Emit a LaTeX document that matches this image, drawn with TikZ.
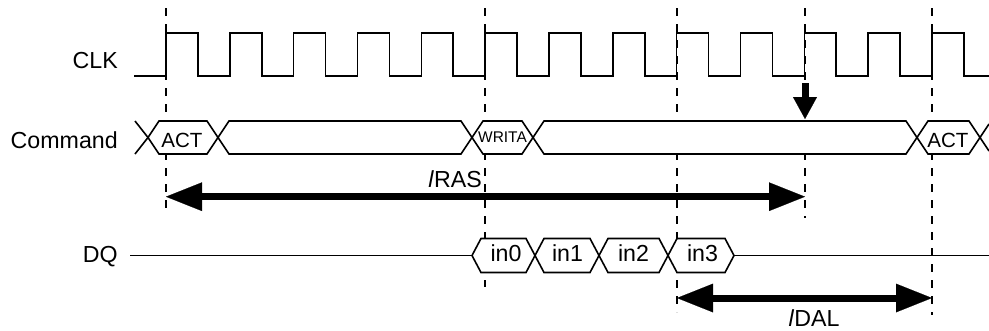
\documentclass[tikz,border=0pt]{standalone}
\usepackage{fontspec}
\setmainfont{Liberation Sans}
\usepackage{tikz}
\usetikzlibrary{arrows.meta}

\begin{document}
\begin{tikzpicture}[x=0.75pt,y=0.75pt,yscale=-1,
  wave/.style={line width=1.2pt, line join=miter},
  tick/.style={line width=0.8pt, dash pattern=on 6pt off 6pt},
  cell/.style={line width=1.2pt, fill=white, line join=miter},
  bigtip/.tip={Triangle[length=27pt,width=21.5pt,line width=0.1pt]},
  smalltip/.tip={Triangle[length=16.5pt,width=18pt,line width=0.1pt]},
  span/.style={line width=5.25pt, bigtip-bigtip},
  sig/.style={inner sep=0pt, font=\fontsize{17.4}{20}\selectfont},
  cmd/.style={inner sep=0pt, font=\fontsize{15.4}{18}\selectfont},
  tiny/.style={inner sep=0pt, font=\fontsize{11.6}{14}\selectfont}]
  \useasboundingbox (0,0) rectangle (989,330);

  %Straight Lines: dashed markers
  \foreach \x/\yend in {166/215, 485/287, 677/312, 805/218, 932/315}
    \draw [tick] (\x,8) -- (\x,\yend) ;

  %Clock wave
  \draw [wave] (134,76) \foreach \k in {0,...,12} { -- ({166+63.83*\k},76) -- ({166+63.83*\k},33) -- ({197.9+63.83*\k},33) -- ({197.9+63.83*\k},76) } -- (989,76) ;

  %Command bus
  \draw [wave] (135,121) -- (148,137.5) -- (135,154) ;
  \foreach \a/\b in {148/218, 218/472, 472/533, 533/917, 917/980}
    \draw [cell] (\a,137.5) -- (\a+11,121) -- (\b-11,121) -- (\b,137.5) -- (\b-11,154) -- (\a+11,154) -- cycle ;
  \draw [wave] (989,124) -- (980,137.5) -- (989,151) ;

  %DQ bus
  \draw [wave] (130,255.5) -- (472,255.5) ;
  \foreach \a/\b in {472/535, 535/599, 599/668, 668/734}
    \draw [cell] (\a,255.5) -- (\a+9,238.5) -- (\b-9,238.5) -- (\b,255.5) -- (\b-9,272.5) -- (\a+9,272.5) -- cycle ;
  \draw [wave] (734,255.5) -- (989,255.5) ;

  %Arrows
  \coordinate (rasL) at (166,196.7);
  \coordinate (rasR) at (805,196.7);
  \coordinate (dalL) at (677,298);
  \coordinate (dalR) at (932,298);
  \coordinate (apTop) at (805,83);
  \coordinate (apBot) at (805,119);
  \draw [span] (rasL) -- (rasR) ;
  \draw [span] (dalL) -- (dalR) ;
  \draw [line width=5.25pt, -smalltip] (apTop) -- (apBot) ;

  % Text Node
  \draw (118,68) node (clk) [sig, anchor=base east] {CLK};
  % Text Node
  \draw (118,148) node (command) [sig, anchor=base east] {Command};
  % Text Node
  \draw (118,262) node (dq) [sig, anchor=base east] {DQ};
  % Text Node
  \draw (182,147.7) node (act1) [cmd, anchor=base] {ACT};
  % Text Node
  \draw (502.5,142.3) node (writa) [tiny, anchor=base] {WRITA};
  % Text Node
  \draw (948,147.7) node (act2) [cmd, anchor=base] {ACT};
  % Text Node
  \draw (506,261.7) node (in0) [sig, anchor=base] {in0};
  % Text Node
  \draw (567.5,261.7) node (in1) [sig, anchor=base] {in1};
  % Text Node
  \draw (633.5,261.7) node (in2) [sig, anchor=base] {in2};
  % Text Node
  \draw (702.5,261.7) node (in3) [sig, anchor=base] {in3};
  % Text Node
  \draw (482,187) node (tras) [sig, anchor=base east] {\textit{l}RAS};
  % Text Node
  \draw (814,326) node (tdal) [sig, anchor=base] {\textit{l}DAL};
\end{tikzpicture}
\end{document}
